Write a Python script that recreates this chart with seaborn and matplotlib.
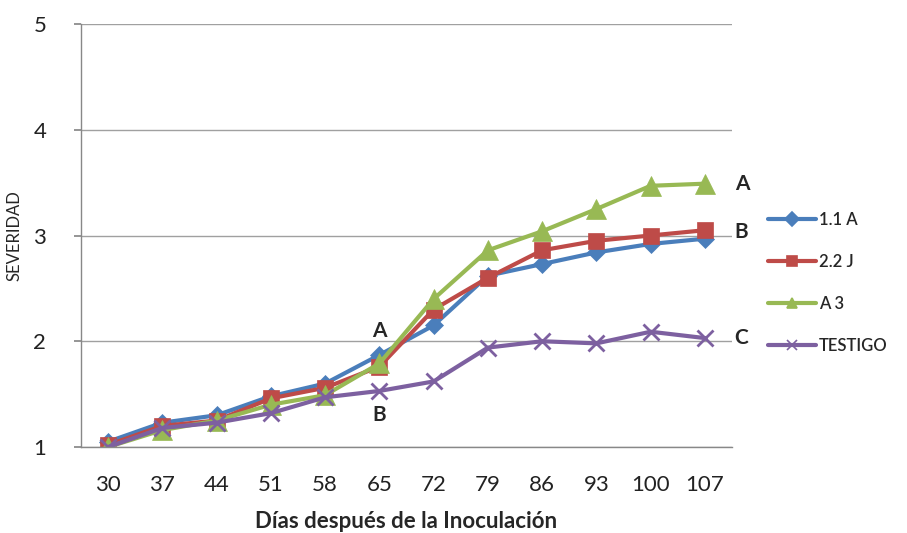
import matplotlib
matplotlib.use("Agg")
import matplotlib.pyplot as plt
import seaborn as sns
import pandas as pd
from matplotlib.lines import Line2D

dias = ["30", "37", "44", "51", "58", "65", "72", "79", "86", "93", "100", "107"]
s_11a = [1.05, 1.23, 1.30, 1.48, 1.60, 1.87, 2.15, 2.62, 2.73, 2.84, 2.92, 2.97]
s_22j = [1.02, 1.20, 1.25, 1.46, 1.56, 1.76, 2.30, 2.60, 2.86, 2.95, 3.00, 3.05]
s_a3 = [1.00, 1.16, 1.25, 1.40, 1.49, 1.79, 2.40, 2.86, 3.04, 3.25, 3.47, 3.49]
s_test = [1.00, 1.18, 1.23, 1.32, 1.47, 1.53, 1.62, 1.94, 2.00, 1.98, 2.09, 2.03]
series_names = ["1.1 A", "2.2 J", "A 3", "TESTIGO"]
colors = ["#4A7EBB", "#BE4B48", "#98B954", "#7D60A0"]
markers = ["D", "s", "^", "x"]
msizes = [9, 12, 14, 11]

sns.set_theme(style="white")
plt.rcParams["font.family"] = ["Lato", "DejaVu Sans"]

fig = plt.figure(figsize=(9.07, 5.33), dpi=100)
ax = fig.add_axes([81 / 907, 86 / 533, (732 - 81) / 907, (447 - 24) / 533])

all_vals = [s_11a, s_22j, s_a3, s_test]
pos = list(range(len(dias)))
for name, vals, c, m, ms in zip(series_names, all_vals, colors, markers, msizes):
    df = pd.DataFrame({"x": pos, "y": vals})
    sns.lineplot(data=df, x="x", y="y", ax=ax, color=c, linewidth=3,
                 marker=m, markersize=ms, markeredgecolor=c,
                 markeredgewidth=2 if m == "x" else 0.5, legend=False)

ax.set_xlim(-0.5, len(dias) - 0.5)
ax.set_ylim(1, 5)
ax.set_xticks(pos)
ax.set_xticklabels(dias)
ax.set_yticks([1, 2, 3, 4, 5])
ax.tick_params(axis="both", labelsize=16, colors="#222222")
ax.tick_params(axis="x", length=0, pad=20)
ax.tick_params(axis="y", length=5, left=True, color="#888888", pad=20)
ax.yaxis.grid(True, color="#A0A0A0", linewidth=1)
ax.set_axisbelow(True)
for s in ["top", "right"]:
    ax.spines[s].set_visible(False)
for s in ["left", "bottom"]:
    ax.spines[s].set_color("#888888")
    ax.spines[s].set_linewidth(1)

ax.set_xlabel("Días después de la Inoculación", fontsize=16, fontweight="bold", labelpad=12)
ax.set_ylabel("SEVERIDAD", fontsize=12, labelpad=8)

# significance letters
ax.text(5, 1.87 + 0.13, "A", fontsize=15, fontweight="bold", ha="center", va="bottom")
ax.text(5, 1.53 - 0.13, "B", fontsize=15, fontweight="bold", ha="center", va="top")
ax.text(11.55, 3.49, "A", fontsize=15, fontweight="bold", ha="left", va="center", clip_on=False)
ax.text(11.55, 3.03, "B", fontsize=15, fontweight="bold", ha="left", va="center", clip_on=False)
ax.text(11.55, 2.03, "C", fontsize=15, fontweight="bold", ha="left", va="center", clip_on=False)

handles = [Line2D([0], [0], color=c, linewidth=3, marker=m,
                  markersize=7, markeredgecolor=c, markeredgewidth=1.2)
           for c, m in zip(colors, markers)]
fig.legend(handles, series_names, loc="center left", bbox_to_anchor=(768 / 907, 1 - 283 / 533),
           frameon=False, handlelength=2.9, handletextpad=0.15,
           labelspacing=1.55, borderaxespad=0, borderpad=0,
           prop={"size": 12, "weight": "semibold"})

fig.savefig("out.png", dpi=100)
